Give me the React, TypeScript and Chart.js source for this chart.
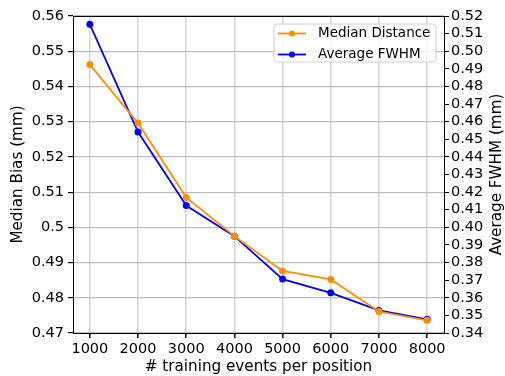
import React, { useEffect, useRef } from "react";
import { Chart, registerables } from "chart.js";

Chart.register(...registerables);

const trainingEvents = [1000, 2000, 3000, 4000, 5000, 6000, 7000, 8000];
const medianDistance = [0.5462, 0.5296, 0.5085, 0.4975, 0.4876, 0.4852, 0.4761, 0.4736];
const averageFWHM = [0.5153, 0.4541, 0.4124, 0.395, 0.3706, 0.3628, 0.3528, 0.3478];
const leftTicks = [0.47, 0.48, 0.49, 0.5, 0.51, 0.52, 0.53, 0.54, 0.55, 0.56];
const rightTicks = [
  0.34, 0.35, 0.36, 0.37, 0.38, 0.39, 0.4, 0.41, 0.42, 0.43, 0.44, 0.45, 0.46, 0.47, 0.48, 0.49, 0.5, 0.51, 0.52,
];

const FONT = "'DejaVu Sans', sans-serif";
const ORANGE = "#ff8c00";
const BLUE = "#0000ff";

const decorPlugin = {
  id: "decor",
  afterDraw(chart: any) {
    const { ctx, chartArea } = chart;
    const { left, right, top, bottom } = chartArea;
    ctx.save();
    // frame
    ctx.strokeStyle = "#000";
    ctx.lineWidth = 1;
    ctx.strokeRect(Math.round(left) + 0.5, Math.round(top) + 0.5, Math.round(right - left), Math.round(bottom - top));

    // axis titles
    ctx.fillStyle = "#000";
    ctx.font = `15.2px ${FONT}`;
    ctx.textAlign = "center";
    ctx.textBaseline = "middle";
    const midY = (top + bottom) / 2;
    ctx.save();
    ctx.translate(left - 55, midY);
    ctx.rotate(-Math.PI / 2);
    ctx.fillText("Median Bias (mm)", 0, 0);
    ctx.restore();
    ctx.save();
    ctx.translate(right + 53, midY);
    ctx.rotate(-Math.PI / 2);
    ctx.fillText("Average FWHM (mm)", 0, 0);
    ctx.restore();
    ctx.fillText("# training events per position", (left + right) / 2, bottom + 34);

    // legend
    const bx = right - 170;
    const by = top + 8;
    const bw = 162;
    const bh = 38;
    ctx.beginPath();
    const r = 3;
    ctx.moveTo(bx + r, by);
    ctx.lineTo(bx + bw - r, by);
    ctx.arcTo(bx + bw, by, bx + bw, by + r, r);
    ctx.lineTo(bx + bw, by + bh - r);
    ctx.arcTo(bx + bw, by + bh, bx + bw - r, by + bh, r);
    ctx.lineTo(bx + r, by + bh);
    ctx.arcTo(bx, by + bh, bx, by + bh - r, r);
    ctx.lineTo(bx, by + r);
    ctx.arcTo(bx, by, bx + r, by, r);
    ctx.closePath();
    ctx.fillStyle = "rgba(255,255,255,0.8)";
    ctx.fill();
    ctx.strokeStyle = "#d0d0d0";
    ctx.lineWidth = 1;
    ctx.stroke();

    const items = [
      { label: "Median Distance", color: ORANGE },
      { label: "Average FWHM", color: BLUE },
    ];
    items.forEach((it, i) => {
      const y = by + 9.5 + i * 21;
      ctx.strokeStyle = it.color;
      ctx.lineWidth = 1.8;
      ctx.beginPath();
      ctx.moveTo(bx + 4, y);
      ctx.lineTo(bx + 32, y);
      ctx.stroke();
      ctx.fillStyle = it.color;
      ctx.beginPath();
      ctx.arc(bx + 18, y, 3, 0, Math.PI * 2);
      ctx.fill();
      ctx.fillStyle = "#000";
      ctx.font = `13.5px ${FONT}`;
      ctx.textAlign = "left";
      ctx.textBaseline = "middle";
      ctx.fillText(it.label, bx + 44, y);
    });
    ctx.restore();
  },
};

export default function App() {
  const ref = useRef<HTMLCanvasElement | null>(null);
  useEffect(() => {
    if (!ref.current) return;
    const chart = new Chart(ref.current, {
      type: "line",
      data: {
        datasets: [
          {
            label: "Median Distance",
            data: trainingEvents.map((x, i) => ({ x, y: medianDistance[i] })),
            borderColor: ORANGE,
            backgroundColor: ORANGE,
            borderWidth: 1.8,
            pointRadius: 3.5,
            pointBorderWidth: 0,
            yAxisID: "y",
            tension: 0,
          },
          {
            label: "Average FWHM",
            data: trainingEvents.map((x, i) => ({ x, y: averageFWHM[i] })),
            borderColor: BLUE,
            backgroundColor: BLUE,
            borderWidth: 1.8,
            pointRadius: 3.5,
            pointBorderWidth: 0,
            yAxisID: "y2",
            tension: 0,
          },
        ],
      },
      options: {
        animation: false,
        responsive: false,
        maintainAspectRatio: false,
        layout: { padding: { top: 16, left: 0, right: 0, bottom: 0 } },
        plugins: { legend: { display: false }, tooltip: { enabled: false } },
        scales: {
          x: {
            type: "linear",
            min: 650,
            max: 8350,
            afterBuildTicks: (s: any) => {
              s.ticks = trainingEvents.map((v) => ({ value: v }));
            },
            afterFit: (s: any) => {
              s.height = 43;
            },
            grid: { color: "#d3d3d3", lineWidth: 1.5, tickColor: "#000", tickLength: 5 },
            border: { color: "#000" },
            ticks: {
              color: "#000",
              font: { family: FONT, size: 14.5 },
              padding: 3,
              maxRotation: 0,
              callback: (v: any) => String(v),
            },
          },
          y: {
            type: "linear",
            position: "left",
            min: 0.47,
            max: 0.56,
            afterBuildTicks: (s: any) => {
              s.ticks = leftTicks.map((v) => ({ value: v }));
            },
            afterFit: (s: any) => {
              s.width = 73;
            },
            grid: { color: "#bdbdbd", lineWidth: 1.2, tickColor: "#000", tickLength: 5 },
            border: { color: "#000" },
            ticks: {
              color: "#000",
              font: { family: FONT, size: 14.5 },
              padding: 4,
              callback: (v: any) => String(Number(Number(v).toFixed(2))),
            },
          },
          y2: {
            type: "linear",
            position: "right",
            min: 0.34,
            max: 0.52,
            afterBuildTicks: (s: any) => {
              s.ticks = rightTicks.map((v) => ({ value: v }));
            },
            afterFit: (s: any) => {
              s.width = 61;
            },
            grid: { drawOnChartArea: false, tickColor: "#000", tickLength: 5 },
            border: { color: "#000" },
            ticks: {
              color: "#000",
              font: { family: FONT, size: 14.5 },
              padding: 2,
              autoSkip: false,
              callback: (v: any) => Number(v).toFixed(2),
            },
          },
        },
      },
      plugins: [decorPlugin],
    } as any);
    return () => chart.destroy();
  }, []);
  return (
    <div style={{ position: "fixed", left: 0, top: 0, width: 505, height: 376, background: "#fff" }}>
      <canvas ref={ref} width={505} height={376} style={{ width: 505, height: 376, display: "block" }} />
    </div>
  );
}
